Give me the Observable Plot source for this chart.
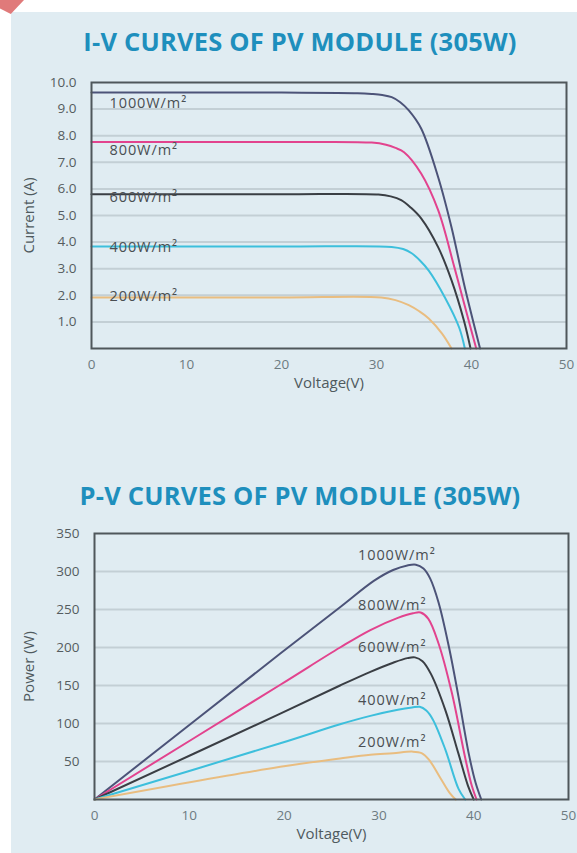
<!DOCTYPE html>
<html>
<head>
<meta charset="utf-8">
<script src="https://cdn.jsdelivr.net/npm/d3@7"></script>
<script src="https://cdn.jsdelivr.net/npm/@observablehq/plot@0.6"></script>
<style>
  html, body { margin: 0; padding: 0; background: #ffffff; }
  body { width: 577px; height: 853px; position: relative; overflow: hidden; font-family: "Open Sans", sans-serif; }
  #panel { position: absolute; left: 11px; top: 12px; width: 566px; height: 841px; background: #e0ecf2; }
  #corner { position: absolute; left: 0; top: 0; width: 24px; height: 14px; background: #e07a7a; clip-path: polygon(0 0, 100% 0, 45% 100%, 0 60%); }
  .title { position: absolute; left: 0; width: 600px; text-align: center; font-weight: 700; font-size: 25.5px; color: #1e8fbd; letter-spacing: 0.2px; }
  #t1 { top: 24px; }
  #t2 { top: 478px; }
  .chart { position: absolute; left: 0; }
  #c1 { top: 70px; }
  #c2 { top: 520px; }
</style>
</head>
<body>
<div id="panel"></div>
<div id="corner"></div>
<div class="title" id="t1">I-V CURVES OF PV MODULE (305W)</div>
<div class="title" id="t2">P-V CURVES OF PV MODULE (305W)</div>
<div class="chart" id="c1"></div>
<div class="chart" id="c2"></div>
<script>
// ---- data ----
const irradiance = ["1000W/m²", "800W/m²", "600W/m²", "400W/m²", "200W/m²"];
const colors = ["#4c5378", "#e2438e", "#3a3e44", "#3dbfdc", "#e9bd80"];

// I-V curves (voltage V, current A)
const iv1000V = [0, 20, 28, 29.5, 30.6, 31.6, 32.5, 33.4, 34.7, 36.5, 37.9, 39.3, 40.9];
const iv1000I = [9.62, 9.62, 9.6, 9.57, 9.53, 9.45, 9.26, 8.95, 8.27, 6.43, 4.55, 2.29, 0];
const iv800V = [0, 20, 29.5, 31, 32, 32.9, 34.7, 36.5, 38.2, 39.7, 40.5];
const iv800I = [7.76, 7.76, 7.74, 7.66, 7.54, 7.38, 6.58, 5.19, 3.05, 1.05, 0];
const iv600V = [0, 20, 30.2, 31.5, 32.6, 33.6, 34.7, 36.5, 37.9, 39.2, 39.9];
const iv600I = [5.8, 5.8, 5.79, 5.72, 5.58, 5.3, 4.89, 3.8, 2.56, 1.05, 0];
const iv400V = [0, 20, 31.6, 32.8, 33.7, 34.6, 35.5, 37.2, 38.7, 39.3];
const iv400I = [3.83, 3.83, 3.82, 3.74, 3.58, 3.3, 2.93, 1.92, 0.79, 0];
const iv200V = [0, 20, 30.5, 32, 33.4, 34.5, 35.5, 36.9, 37.9];
const iv200I = [1.92, 1.92, 1.92, 1.82, 1.63, 1.4, 1.13, 0.56, 0];

// P-V curves (voltage V, power W)
const pv1000V = [0, 19.6, 25.9, 29.5, 31.5, 33.0, 33.9, 34.7, 35.4, 36.3, 37.4, 38.4, 39.5, 40.2, 40.8];
const pv1000P = [0, 192, 253, 288, 302, 308, 309, 304, 291, 259, 200, 135, 59, 22, 0];
const pv800V = [0, 19.6, 25.9, 29.1, 32, 33.6, 34.4, 35.2, 36.3, 37.7, 39.1, 39.8, 40.3];
const pv800P = [0, 151, 200, 223, 239, 245, 246, 238, 205, 140, 55, 18, 0];
const pv600V = [0, 19.6, 25.9, 29.1, 31.5, 33.0, 33.8, 34.6, 35.5, 37.0, 38.4, 39.4, 40.0];
const pv600P = [0, 113, 150, 168, 180, 186, 187, 182, 165, 118, 60, 18, 0];
const pv400V = [0, 19.6, 25.9, 29.1, 32, 33.5, 34.3, 35.0, 35.7, 37.0, 38.4, 39.1];
const pv400P = [0, 74, 99, 110, 118, 121, 122, 117, 105, 66, 14, 0];
const pv200V = [0, 19.6, 25.9, 29.1, 31.5, 33.5, 34.5, 35.3, 36.5, 37.5, 38.1];
const pv200P = [0, 43, 54, 59, 61, 63, 61, 52, 28, 8, 0];

// label anchors (data units)
const ivLabelV = [1.9, 1.9, 1.9, 1.9, 1.9];
const ivLabelI = [9.2, 7.45, 5.7, 3.8, 1.95];
const pvLabelV = [27.8, 27.8, 27.8, 27.8, 27.8];
const pvLabelP = [321, 255, 200, 130, 75];

// ticks
const ivXTicks = [0, 10, 20, 30, 40, 50];
const ivYTicks = [1, 2, 3, 4, 5, 6, 7, 8, 9, 10];
const pvXTicks = [0, 10, 20, 30, 40, 50];
const pvYTicks = [50, 100, 150, 200, 250, 300, 350];

// ---- build tables ----
const ivSeries = [[iv1000V, iv1000I], [iv800V, iv800I], [iv600V, iv600I], [iv400V, iv400I], [iv200V, iv200I]];
const pvSeries = [[pv1000V, pv1000P], [pv800V, pv800P], [pv600V, pv600P], [pv400V, pv400P], [pv200V, pv200P]];
function toRows(series) {
  const rows = [];
  series.forEach(([xs, ys], k) => xs.forEach((x, i) => rows.push({k: irradiance[k], x, y: ys[i]})));
  return rows;
}
const ivRows = toRows(ivSeries);
const pvRows = toRows(pvSeries);
const ivLabels = irradiance.map((k, i) => ({k, x: ivLabelV[i], y: ivLabelI[i]}));
const pvLabels = irradiance.map((k, i) => ({k, x: pvLabelV[i], y: pvLabelP[i]}));

const font = "'Open Sans', sans-serif";
const gridColor = "#c3cfd5";
const frameColor = "#4f575b";

function chart({rows, labels, yDomain, yTicks, yFormat, yLabel, xTicks, marginLeft, marginRight, marginTop, marginBottom, yLabelOffset}) {
  return Plot.plot({
    width: 577,
    height: 330,
    marginLeft, marginRight, marginTop, marginBottom,
    style: {background: "transparent", fontFamily: font, fontSize: "13.5px", color: "#5a6266"},
    x: {domain: [0, 50], ticks: xTicks, label: "Voltage(V)", labelAnchor: "center", labelArrow: "none"},
    y: {domain: yDomain, ticks: yTicks, tickFormat: yFormat, label: yLabel, labelAnchor: "center", labelArrow: "none"},
    color: {domain: irradiance, range: colors},
    marks: [
      Plot.ruleY(yTicks.slice(0, -1), {stroke: gridColor, strokeWidth: 2}),
      Plot.axisX({ticks: xTicks, tickSize: 0, tickPadding: 11, fontSize: 13.5, fill: "#6d7b81", label: null}),
      Plot.axisX({ticks: [], tickSize: 0, fontSize: 15, fill: "#4f5a5e", label: "Voltage(V)", labelAnchor: "center", labelOffset: 39, labelArrow: "none"}),
      Plot.axisY({ticks: yTicks, tickSize: 0, tickPadding: 15, tickFormat: yFormat, fontSize: 13.5, fill: "#555c60", label: null}),
      Plot.axisY({ticks: [], tickSize: 0, fontSize: 15, fill: "#4f5a5e", label: yLabel, labelAnchor: "center", labelOffset: yLabelOffset, labelArrow: "none"}),
      Plot.line(rows, {x: "x", y: "y", z: "k", stroke: "k", strokeWidth: 2, curve: "catmull-rom"}),
      Plot.text(labels, {x: "x", y: "y", text: "k", textAnchor: "start", fill: "#4a4f52", fontSize: 14.5}),
      Plot.frame({stroke: frameColor, strokeWidth: 2})
    ]
  });
}

document.getElementById("c1").append(chart({
  rows: ivRows, labels: ivLabels, yDomain: [0, 10], yTicks: ivYTicks, yFormat: d3.format(".1f"),
  yLabel: "Current (A)", xTicks: ivXTicks,
  marginLeft: 91, marginRight: 11, marginTop: 12, marginBottom: 52, yLabelOffset: 68
}));
document.getElementById("c2").append(chart({
  rows: pvRows, labels: pvLabels, yDomain: [0, 350], yTicks: pvYTicks, yFormat: d3.format("d"),
  yLabel: "Power (W)", xTicks: pvXTicks,
  marginLeft: 94, marginRight: 9, marginTop: 13, marginBottom: 51, yLabelOffset: 71
}));
document.querySelectorAll("svg text").forEach(t => {
  if (t.textContent.includes("W/m²")) t.setAttribute("letter-spacing", "0.9");
});
</script>
</body>
</html>
